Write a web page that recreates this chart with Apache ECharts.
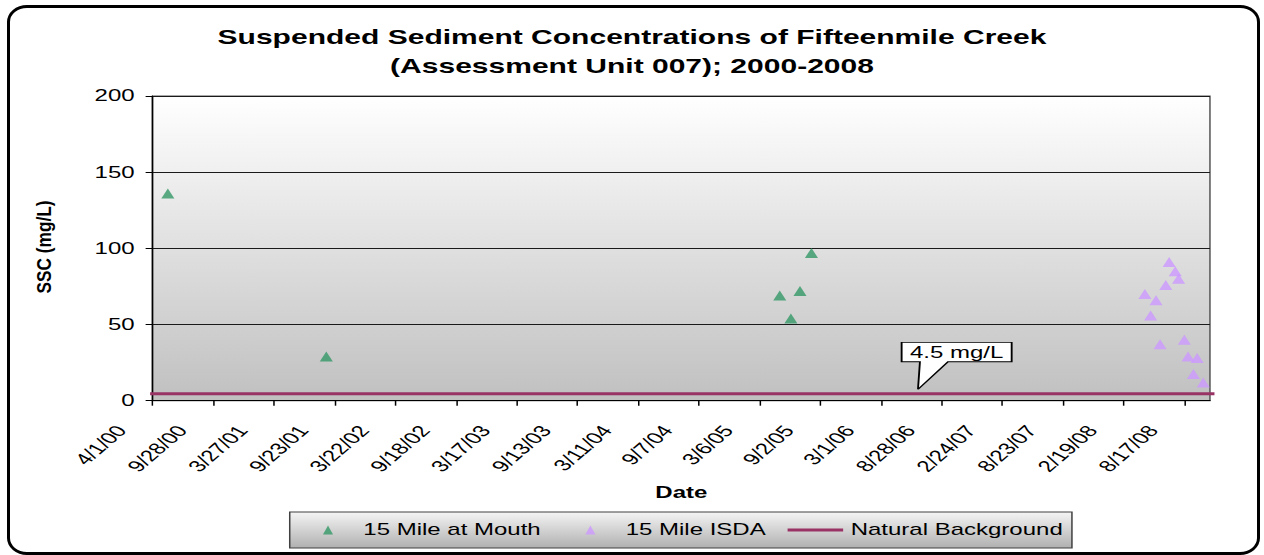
<!DOCTYPE html>
<html>
<head>
<meta charset="utf-8">
<script src="https://cdn.jsdelivr.net/npm/echarts@6/dist/echarts.min.js"></script>
<style>
  html, body { margin: 0; padding: 0; background: #fff; width: 1264px; height: 555px; overflow: hidden; }
  #frame { position: absolute; left: 7px; top: 5px; width: 1253px; height: 550px; box-sizing: border-box;
           border: 3px solid #000; border-radius: 20px / 17px; }
  /* the source picture is stretched sideways, so the chart is drawn narrow and scaled */
  #chart { position: absolute; left: 0; top: 0; width: 842px; height: 555px;
           transform: scaleX(1.50119); transform-origin: 0 0; }
</style>
</head>
<body>
<div id="frame"></div>
<div id="chart"></div>
<script>
const FONT = '"Liberation Sans", Arial, sans-serif';

const axisStart = '4/1/00';
const axisEnd = '11/1/08';
const tickLabels = ['4/1/00', '9/28/00', '3/27/01', '9/23/01', '3/22/02', '9/18/02', '3/17/03', '9/13/03',
  '3/11/04', '9/7/04', '3/6/05', '9/2/05', '3/1/06', '8/28/06', '2/24/07', '8/23/07', '2/19/08', '8/17/08'];

const mouthDates = ['5/16/00', '8/29/01', '5/5/05', '6/7/05', '7/4/05', '8/7/05'];
const mouthSSC = [136, 29, 69, 54, 72, 97];

const isdaDates = ['4/22/08', '5/9/08', '5/25/08', '6/6/08', '6/23/08', '7/3/08', '7/21/08',
  '7/31/08', '8/17/08', '8/28/08', '9/13/08', '9/24/08', '10/12/08'];
const isdaSSC = [70, 56, 66, 37, 76, 91, 85, 80, 40, 29, 17.5, 28, 12];

const backgroundDates = ['3/14/00', '12/2/08'];
const backgroundSSC = [4.5, 4.5];

const calloutDate = '6/19/06';
const calloutText = '4.5 mg/L';

// days since axis start
function toUTC(s) {
  const [m, d, y] = s.split('/').map(Number);
  return Date.UTC(2000 + y, m - 1, d);
}
function dayNum(s) {
  return Math.round((toUTC(s) - toUTC(axisStart)) / 86400000);
}
const pairs = (dates, vals) => dates.map((d, i) => [dayNum(d), vals[i]]);

// legend icons: path bbox fills the 37x9 icon box, mark sits in the middle
const triIcon = 'path://M0,0L0,0M37,9L37,9M15.15,9L18.5,0L21.85,9Z';
const lineIcon = 'path://M0,0L0,0M37,9L37,9M0,3L37,3L37,6L0,6Z';

const chart = echarts.init(document.getElementById('chart'), null, { renderer: 'svg', width: 842, height: 555 });

chart.setOption({
  animation: false,
  title: {
    text: 'Suspended Sediment Concentrations of Fifteenmile Creek\n(Assessment Unit 007); 2000-2008',
    left: 'center',
    top: 17,
    textStyle: { fontFamily: FONT, fontSize: 20, fontWeight: 'bold', color: '#000', lineHeight: 29 }
  },
  grid: {
    left: 101.7, right: 36, top: 96, bottom: 154.3,
    outerBoundsMode: 'none',
    show: true,
    borderColor: '#555',
    borderWidth: 1,
    backgroundColor: {
      type: 'linear', x: 0, y: 0, x2: 0, y2: 1,
      colorStops: [{ offset: 0, color: '#ffffff' }, { offset: 1, color: '#c0c0c0' }]
    }
  },
  legend: {
    left: 193, top: 512,
    padding: [9, 6, 9, 7],
    itemGap: 14.5,
    itemWidth: 37,
    itemHeight: 9,
    borderColor: '#404040',
    borderWidth: 1,
    backgroundColor: {
      type: 'linear', x: 0, y: 0, x2: 0, y2: 1,
      colorStops: [{ offset: 0, color: '#f4f4f4' }, { offset: 1, color: '#b0b0b0' }]
    },
    textStyle: { fontFamily: FONT, fontSize: 16, color: '#000', lineHeight: 18 },
    data: [
      { name: '15 Mile at Mouth', icon: triIcon },
      { name: '15 Mile ISDA', icon: triIcon },
      { name: 'Natural Background', icon: lineIcon }
    ]
  },
  xAxis: {
    type: 'value',
    min: 0,
    max: dayNum(axisEnd),
    interval: 180,
    name: 'Date',
    nameLocation: 'middle',
    nameGap: 84,
    nameTextStyle: { fontFamily: FONT, fontSize: 16, fontWeight: 'bold', color: '#000' },
    axisLine: { show: true, onZero: false, lineStyle: { color: '#000', width: 1 } },
    axisTick: { show: true, length: 5, lineStyle: { color: '#000' } },
    splitLine: { show: false },
    axisLabel: {
      rotate: 52,
      margin: 0,
      padding: [0, 34, 0, 0],
      fontFamily: FONT,
      fontSize: 16,
      color: '#000',
      showMaxLabel: false,
      formatter: v => (v % 180 === 0 && tickLabels[v / 180]) ? tickLabels[v / 180] : ''
    }
  },
  yAxis: {
    type: 'value',
    min: 0,
    max: 200,
    interval: 50,
    axisLine: { show: true, lineStyle: { color: '#000', width: 1 } },
    axisTick: { show: true, length: 4.7, lineStyle: { color: '#000' } },
    axisLabel: { fontFamily: FONT, fontSize: 16, color: '#000', margin: 12 },
    splitLine: { show: true, lineStyle: { color: '#1a1a1a', width: 1 } }
  },
  graphic: [{
    type: 'text',
    x: 29.3,
    y: 247,
    rotation: Math.PI / 2,
    scaleX: 1.33,
    style: {
      text: 'SSC (mg/L)',
      font: 'bold 13px ' + FONT,
      fill: '#000',
      align: 'center', verticalAlign: 'middle',
      textAlign: 'center', textVerticalAlign: 'middle'
    }
  }],
  series: [
    {
      name: '15 Mile at Mouth',
      type: 'scatter',
      symbol: 'triangle',
      symbolSize: [8.7, 10],
      itemStyle: { color: '#339966' },
      data: pairs(mouthDates, mouthSSC)
    },
    {
      name: '15 Mile ISDA',
      type: 'scatter',
      symbol: 'triangle',
      symbolSize: [8.7, 10],
      itemStyle: { color: '#cc99ff' },
      data: pairs(isdaDates, isdaSSC)
    },
    {
      name: 'Natural Background',
      type: 'line',
      symbol: 'none',
      clip: false,
      itemStyle: { color: '#993366' },
      lineStyle: { color: '#993366', width: 3 },
      data: pairs(backgroundDates, backgroundSSC),
      markPoint: {
        symbol: 'path://M0,0L73.3,0L73.3,19.4L30.9,19.4L10.9,47L12.2,19.4L0,19.4Z',
        symbolSize: [73.3, 47],
        symbolKeepAspect: false,
        symbolOffset: [25.75, -28],
        itemStyle: { color: '#fff', borderColor: '#000', borderWidth: 1 },
        label: {
          show: true,
          position: 'inside',
          offset: [0, -13.8],
          formatter: calloutText,
          fontFamily: FONT,
          fontSize: 16,
          color: '#000'
        },
        data: [{ coord: [dayNum(calloutDate), backgroundSSC[0]] }]
      }
    }
  ]
});
</script>
</body>
</html>
